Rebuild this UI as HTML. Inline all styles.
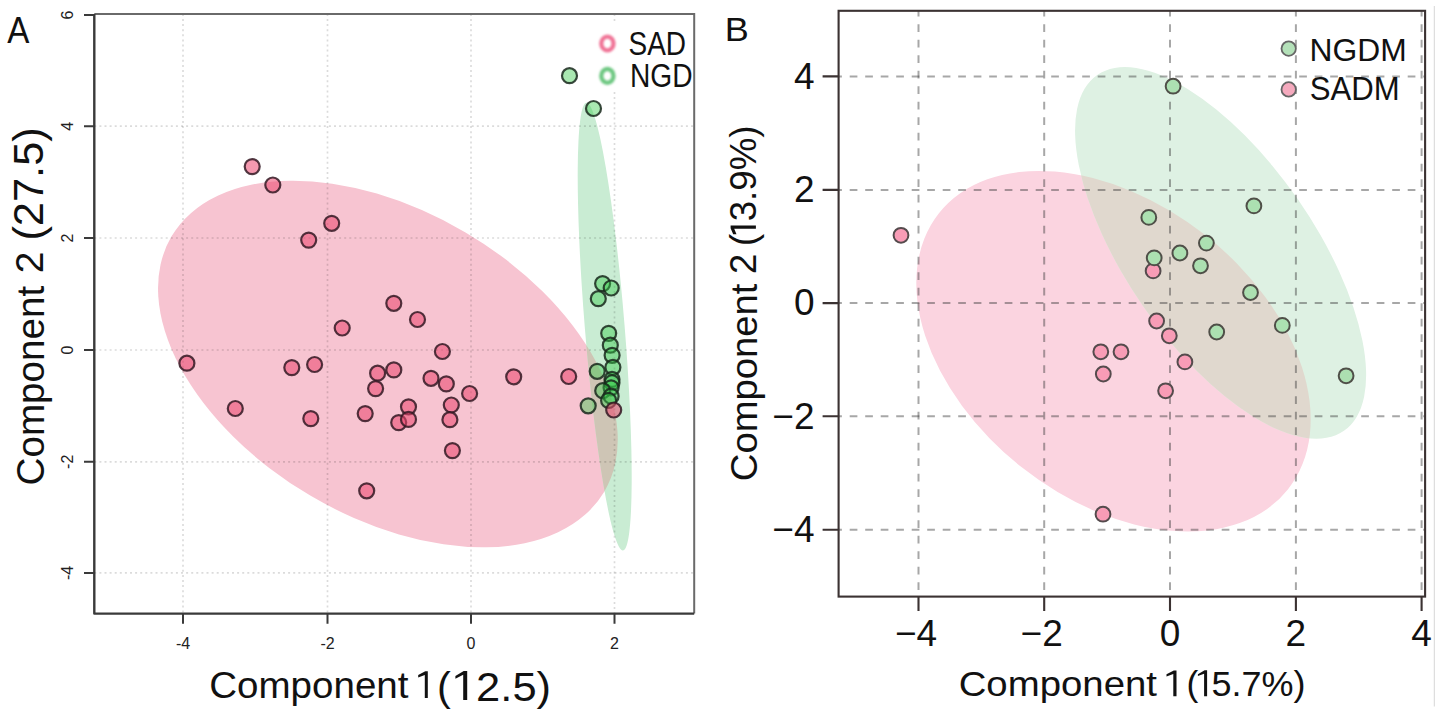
<!DOCTYPE html>
<html><head><meta charset="utf-8"><title>PCA plots</title>
<style>html,body{margin:0;padding:0;background:#fff;overflow:hidden}svg{display:block}</style>
</head><body>
<svg width="1441" height="713" viewBox="0 0 1441 713" font-family="'Liberation Sans', sans-serif">
<defs>
<clipPath id="ca"><rect x="94.3" y="13.9" width="599.9000000000001" height="599.7"/></clipPath>
<clipPath id="cb"><rect x="838.6" y="10.8" width="586.4999999999999" height="585.8000000000001"/></clipPath>
<filter id="bl" x="-50%" y="-50%" width="200%" height="200%"><feGaussianBlur stdDeviation="0.9"/></filter>
</defs>
<rect width="1441" height="713" fill="#fff"/>
<clipPath id="cpa"><ellipse cx="387.9" cy="364.0" rx="251.2" ry="152.8" transform="rotate(30.54 387.9 364.0)"/></clipPath>
<g clip-path="url(#ca)">
<ellipse cx="387.9" cy="364.0" rx="251.2" ry="152.8" transform="rotate(30.54 387.9 364.0)" fill="rgb(247,196,209)"/>
<ellipse cx="604.7" cy="326.6" rx="19.9" ry="224.6" transform="rotate(-4.68 604.7 326.6)" fill="rgb(201,236,211)"/>
<g clip-path="url(#cpa)"><ellipse cx="604.7" cy="326.6" rx="19.9" ry="224.6" transform="rotate(-4.68 604.7 326.6)" fill="rgb(206,197,181)"/></g>
</g>
<g clip-path="url(#ca)" stroke="#000" stroke-opacity="0.14" stroke-width="1.7" stroke-dasharray="2 3.1" fill="none">
<path d="M183.0 13.9V613.6"/>
<path d="M327.5 13.9V613.6"/>
<path d="M471.0 13.9V613.6"/>
<path d="M614.5 13.9V22M614.5 92V613.6"/>
<path d="M94.3 126.2H694.2"/>
<path d="M94.3 238.0H694.2"/>
<path d="M94.3 350.0H694.2"/>
<path d="M94.3 461.8H694.2"/>
<path d="M94.3 572.9H694.2"/>
</g>
<g fill="rgb(235,70,110)" fill-opacity="0.55" stroke="rgba(50,25,35,0.85)" stroke-width="2.2">
<circle cx="252.2" cy="166.6" r="7.5"/>
<circle cx="272.8" cy="185.0" r="7.5"/>
<circle cx="331.7" cy="223.3" r="7.5"/>
<circle cx="308.7" cy="240.1" r="7.5"/>
<circle cx="393.8" cy="303.3" r="7.5"/>
<circle cx="417.5" cy="319.5" r="7.5"/>
<circle cx="342.2" cy="328.0" r="7.5"/>
<circle cx="442.4" cy="351.5" r="7.5"/>
<circle cx="186.9" cy="363.2" r="7.5"/>
<circle cx="291.8" cy="367.6" r="7.5"/>
<circle cx="314.6" cy="364.5" r="7.5"/>
<circle cx="377.6" cy="373.2" r="7.5"/>
<circle cx="393.8" cy="369.9" r="7.5"/>
<circle cx="431.0" cy="378.3" r="7.5"/>
<circle cx="446.3" cy="383.9" r="7.5"/>
<circle cx="513.7" cy="376.8" r="7.5"/>
<circle cx="375.6" cy="388.6" r="7.5"/>
<circle cx="469.6" cy="393.5" r="7.5"/>
<circle cx="235.3" cy="408.5" r="7.5"/>
<circle cx="310.8" cy="418.6" r="7.5"/>
<circle cx="365.2" cy="413.6" r="7.5"/>
<circle cx="408.5" cy="406.8" r="7.5"/>
<circle cx="398.7" cy="422.6" r="7.5"/>
<circle cx="408.5" cy="419.4" r="7.5"/>
<circle cx="451.3" cy="405.0" r="7.5"/>
<circle cx="449.9" cy="419.7" r="7.5"/>
<circle cx="452.4" cy="450.6" r="7.5"/>
<circle cx="366.7" cy="490.8" r="7.5"/>
<circle cx="568.7" cy="376.5" r="7.5"/>
</g>
<g fill="rgb(50,200,70)" fill-opacity="0.42" stroke="rgba(25,40,28,0.85)" stroke-width="2.2">
<circle cx="569.5" cy="75.7" r="7.5"/>
<circle cx="593.5" cy="108.5" r="7.5"/>
<circle cx="602.6" cy="283.6" r="7.5"/>
<circle cx="611.2" cy="288.0" r="7.5"/>
<circle cx="598.3" cy="298.7" r="7.5"/>
<circle cx="608.7" cy="333.3" r="7.5"/>
<circle cx="610.3" cy="345.2" r="7.5"/>
<circle cx="612.1" cy="355.3" r="7.5"/>
<circle cx="612.9" cy="367.3" r="7.5"/>
<circle cx="597.2" cy="371.3" r="7.5"/>
<circle cx="612.0" cy="379.4" r="7.5"/>
<circle cx="612.0" cy="382.7" r="7.5"/>
<circle cx="611.1" cy="387.8" r="7.5"/>
<circle cx="602.7" cy="390.7" r="7.5"/>
<circle cx="611.1" cy="396.2" r="7.5"/>
<circle cx="608.6" cy="400.4" r="7.5"/>
<circle cx="588.2" cy="405.8" r="7.5"/>
</g>
<g fill="rgb(235,70,110)" fill-opacity="0.55" stroke="rgba(50,25,35,0.85)" stroke-width="2.2">
<circle cx="613.7" cy="410.0" r="7.5"/>
</g>
<path d="M94.3 13.9H694.2V613.6" stroke="#6a6a6a" stroke-width="2" fill="none"/>
<path d="M94.3 13.9V613.6H694.2" stroke="#3a3a3a" stroke-width="2.4" fill="none" stroke-linejoin="round"/>
<path d="M84 15.0H94.3 M84 126.2H94.3 M84 238.0H94.3 M84 350.0H94.3 M84 461.8H94.3 M84 572.9H94.3 M183.0 613.6V623.7 M327.5 613.6V623.7 M471.0 613.6V623.7 M614.5 613.6V623.7" stroke="#3a3a3a" stroke-width="2" fill="none"/>
<text x="0" y="0" transform="translate(73.3 15.0) rotate(-90)" text-anchor="middle" font-size="16" fill="#222">6</text>
<text x="0" y="0" transform="translate(73.3 126.2) rotate(-90)" text-anchor="middle" font-size="16" fill="#222">4</text>
<text x="0" y="0" transform="translate(73.3 238.0) rotate(-90)" text-anchor="middle" font-size="16" fill="#222">2</text>
<text x="0" y="0" transform="translate(73.3 350.0) rotate(-90)" text-anchor="middle" font-size="16" fill="#222">0</text>
<text x="0" y="0" transform="translate(73.3 461.8) rotate(-90)" text-anchor="middle" font-size="16" fill="#222">-2</text>
<text x="0" y="0" transform="translate(73.3 572.9) rotate(-90)" text-anchor="middle" font-size="16" fill="#222">-4</text>
<text x="183.0" y="649" text-anchor="middle" font-size="16" fill="#222">-4</text>
<text x="327.5" y="649" text-anchor="middle" font-size="16" fill="#222">-2</text>
<text x="471.0" y="649" text-anchor="middle" font-size="16" fill="#222">0</text>
<text x="614.5" y="649" text-anchor="middle" font-size="16" fill="#222">2</text>
<ellipse cx="607.4" cy="43.5" rx="6.1" ry="6.9" fill="none" stroke="rgb(240,115,150)" stroke-width="4.3" filter="url(#bl)"/>
<ellipse cx="607.4" cy="75.9" rx="6.1" ry="6.9" fill="none" stroke="rgb(110,200,130)" stroke-width="4.3" filter="url(#bl)"/>
<clipPath id="cpb"><ellipse cx="1113.5" cy="351.2" rx="222.5" ry="148.0" transform="rotate(38.32 1113.5 351.2)"/></clipPath>
<g clip-path="url(#cb)">
<ellipse cx="1113.5" cy="351.2" rx="222.5" ry="148.0" transform="rotate(38.32 1113.5 351.2)" fill="rgb(251,212,224)"/>
<ellipse cx="1220.6" cy="252.9" rx="216.5" ry="94.0" transform="rotate(55.27 1220.6 252.9)" fill="rgb(222,241,227)"/>
<g clip-path="url(#cpb)"><ellipse cx="1220.6" cy="252.9" rx="216.5" ry="94.0" transform="rotate(55.27 1220.6 252.9)" fill="rgb(224,216,206)"/></g>
</g>
<g clip-path="url(#cb)" stroke="rgb(60,60,60)" stroke-opacity="0.45" stroke-width="2" stroke-dasharray="7.7 7.8" fill="none">
<path d="M918.5 8.8V596.6"/>
<path d="M1044.2 8.8V596.6"/>
<path d="M1170.0 8.8V596.6"/>
<path d="M1295.9 8.8V596.6"/>
<path d="M1421.6 8.8V596.6"/>
<path d="M834.2 76.4H1425.1"/>
<path d="M834.2 189.9H1425.1"/>
<path d="M834.2 303.1H1425.1"/>
<path d="M834.2 416.3H1425.1"/>
<path d="M834.2 529.8H1425.1"/>
</g>
<g fill="rgb(248,156,182)" fill-opacity="1" stroke="#554b4d" stroke-width="2.0">
<circle cx="901.0" cy="235.3" r="7.4"/>
<circle cx="1153.1" cy="270.9" r="7.4"/>
<circle cx="1156.6" cy="321.0" r="7.4"/>
<circle cx="1169.3" cy="335.8" r="7.4"/>
<circle cx="1100.8" cy="351.8" r="7.4"/>
<circle cx="1121.0" cy="351.8" r="7.4"/>
<circle cx="1184.9" cy="361.9" r="7.4"/>
<circle cx="1103.3" cy="374.0" r="7.4"/>
<circle cx="1165.6" cy="390.8" r="7.4"/>
<circle cx="1103.0" cy="514.2" r="7.4"/>
</g>
<g fill="rgb(172,224,177)" fill-opacity="1" stroke="#4f4f48" stroke-width="2.0">
<circle cx="1173.1" cy="86.2" r="7.4"/>
<circle cx="1253.9" cy="205.9" r="7.4"/>
<circle cx="1148.8" cy="217.4" r="7.4"/>
<circle cx="1206.4" cy="243.1" r="7.4"/>
<circle cx="1179.9" cy="253.0" r="7.4"/>
<circle cx="1200.5" cy="265.8" r="7.4"/>
<circle cx="1250.5" cy="292.5" r="7.4"/>
<circle cx="1216.7" cy="332.0" r="7.4"/>
<circle cx="1282.3" cy="325.4" r="7.4"/>
<circle cx="1346.1" cy="375.8" r="7.4"/>
</g>
<g fill="rgb(172,224,177)" fill-opacity="1" stroke="#4f4f48" stroke-width="2.0">
<circle cx="1154.2" cy="257.9" r="7.4"/>
</g>
<rect x="838.6" y="10.8" width="586.4999999999999" height="585.8000000000001" fill="none" stroke="#3b3232" stroke-width="2.1"/>
<path d="M822.6 76.4H838.6 M822.6 189.9H838.6 M822.6 303.1H838.6 M822.6 416.3H838.6 M822.6 529.8H838.6 M918.5 596.6V611 M1044.2 596.6V611 M1170.0 596.6V611 M1295.9 596.6V611 M1421.6 596.6V611" stroke="#3b3232" stroke-width="2.1" fill="none"/>
<text x="814.5" y="88.7" text-anchor="end" font-size="37" fill="#111">4</text>
<text x="814.5" y="202.20000000000002" text-anchor="end" font-size="37" fill="#111">2</text>
<text x="814.5" y="315.40000000000003" text-anchor="end" font-size="37" fill="#111">0</text>
<text x="814.5" y="428.6" text-anchor="end" font-size="37" fill="#111">−2</text>
<text x="814.5" y="542.0999999999999" text-anchor="end" font-size="37" fill="#111">−4</text>
<text x="916.0" y="646.2" text-anchor="middle" font-size="37" fill="#111">−4</text>
<text x="1041.7" y="646.2" text-anchor="middle" font-size="37" fill="#111">−2</text>
<text x="1170.0" y="646.2" text-anchor="middle" font-size="37" fill="#111">0</text>
<text x="1295.9" y="646.2" text-anchor="middle" font-size="37" fill="#111">2</text>
<text x="1421.6" y="646.2" text-anchor="middle" font-size="37" fill="#111">4</text>
<circle cx="1288.7" cy="48.6" r="7.2" fill="rgb(180,225,185)" stroke="#666" stroke-width="1.8"/>
<circle cx="1288.7" cy="89.4" r="7.2" fill="rgb(245,170,190)" stroke="#666" stroke-width="1.8"/>
<text x="7.13" y="42.5" font-size="36" textLength="22.13" lengthAdjust="spacingAndGlyphs" fill="#111">A</text>
<text x="0" y="0" transform="translate(43.5 485.43) rotate(-90)" font-size="39" textLength="199.62" lengthAdjust="spacingAndGlyphs" fill="#111">Component</text>
<text x="0" y="0" transform="translate(42.8 273.22) rotate(-90)" font-size="39" textLength="21.69" lengthAdjust="spacingAndGlyphs" fill="#111">2</text>
<text x="0" y="0" transform="translate(42.6 240.60) rotate(-90)" font-size="42" textLength="113.31" lengthAdjust="spacingAndGlyphs" fill="#111">(27.5)</text>
<text x="209.27" y="698.3" font-size="36.5" textLength="199.22" lengthAdjust="spacingAndGlyphs" fill="#111">Component</text>
<text x="436.96" y="700.5" font-size="41.5" textLength="13.82" lengthAdjust="spacingAndGlyphs" fill="#111">(</text>
<text x="476.13" y="700.5" font-size="41.5" textLength="74.92" lengthAdjust="spacingAndGlyphs" fill="#111">2.5)</text>
<text x="628.54" y="55.0" font-size="32.5" textLength="57.55" lengthAdjust="spacingAndGlyphs" fill="#111">SAD</text>
<text x="629.95" y="86.9" font-size="32.5" textLength="62.58" lengthAdjust="spacingAndGlyphs" fill="#111">NGD</text>
<text x="724.81" y="41.3" font-size="34" textLength="24.06" lengthAdjust="spacingAndGlyphs" fill="#111">B</text>
<text x="1309.45" y="60.5" font-size="31.5" textLength="97.20" lengthAdjust="spacingAndGlyphs" fill="#111">NGDM</text>
<text x="1309.70" y="100.3" font-size="32.5" textLength="89.92" lengthAdjust="spacingAndGlyphs" fill="#111">SADM</text>
<text x="958.68" y="695.9" font-size="35.5" textLength="198.31" lengthAdjust="spacingAndGlyphs" fill="#111">Component</text>
<text x="1186.62" y="695.9" font-size="35.5" textLength="11.82" lengthAdjust="spacingAndGlyphs" fill="#111">(</text>
<text x="1211.56" y="695.9" font-size="35.5" textLength="93.98" lengthAdjust="spacingAndGlyphs" fill="#111">5.7%)</text>
<text x="0" y="0" transform="translate(756.7 481.21) rotate(-90)" font-size="36.5" textLength="197.60" lengthAdjust="spacingAndGlyphs" fill="#111">Component</text>
<text x="0" y="0" transform="translate(755.8 273.93) rotate(-90)" font-size="36.5" textLength="20.30" lengthAdjust="spacingAndGlyphs" fill="#111">2</text>
<text x="0" y="0" transform="translate(756.2 245.88) rotate(-90)" font-size="36.5" textLength="12.16" lengthAdjust="spacingAndGlyphs" fill="#111">(</text>
<text x="0" y="0" transform="translate(756.2 221.37) rotate(-90)" font-size="36.5" textLength="95.86" lengthAdjust="spacingAndGlyphs" fill="#111">3.9%)</text>
<path d="M418.2 675.0L425.3 671.3H427.8V698.1H424.8V674.9L418.2 677.5Z" fill="#111"/>
<path d="M1166.5 674.2L1173.8 670.4H1176.5V696.2H1173.3V674.0L1166.5 676.6Z" fill="#111"/>
<path d="M455.4 676.0L463.7 671.1H467.2V699.9H463.2V674.7L455.4 678.8Z" fill="#111"/>
<path d="M1197.9 674.2L1204.6 670.2H1207.1V696.3H1204.1V673.8000000000001L1197.9 675.9Z" fill="#111"/>
<path transform="translate(755.9 0) rotate(-90)" d="M-234.2 -22.7L-228.2 -25.3H-225.4V0H-228.7V-21.7L-234.2 -19.4Z" fill="#111"/>
<path d="M1434.3 6V706.5" stroke="#d6d6d6" stroke-width="1"/>
</svg>
</body></html>
